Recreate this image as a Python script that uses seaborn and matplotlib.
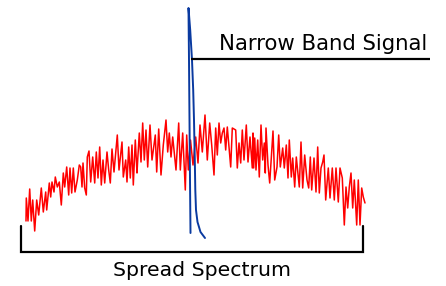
import matplotlib
matplotlib.use("Agg")
import matplotlib.pyplot as plt
import seaborn as sns
import pandas as pd

# Spread spectrum noise floor (frequency position, level)
spread_freq = [26, 26.3, 28, 29.7, 31.3, 32.7, 34.7, 36.7, 38.7, 41.3, 43.3, 45.7, 46.7, 49.3, 50.7, 52, 54, 55.3,
               57.3, 59.3, 61.3, 63.3, 64.7, 66.7, 68.7, 70, 71.7, 73.3, 75, 77.3, 79.3,
               80.7, 82, 83, 84.7, 86.3, 87.3, 89, 90.7, 92.7, 94.7, 96.3, 98, 99.7, 101.3, 103, 104.7, 107,
               108.7, 110.3, 112, 114, 117.3, 119, 122, 123.3, 125.7, 127, 128.7, 130.3, 132, 133.3, 135.3,
               137, 137.7, 139.3, 141, 142.7, 144.3, 146, 147.7, 150, 152, 155.3, 156.7, 158.7, 161, 163.3,
               166, 167.7, 169.3, 171, 172.7, 176, 178.7, 180.3, 182.7, 185.3, 186.7, 188.3, 190.5, 193,
               195.7, 198, 200, 202.3, 205, 207.3, 209.7, 211.7, 214, 215.7, 217.3, 219, 220.7, 222.3, 224,
               225.7, 227.3, 230.7, 232.3, 235.7, 237.3, 239, 240.7, 242.3, 244, 246.3, 248, 250,
               252.3, 253, 253.7, 254.7, 256, 257.7, 259.3, 261, 262.7, 264.3, 265.3, 266, 268, 269.7, 273,
               274.7, 277, 278.7, 280.3, 282.7, 284.3, 286.3, 288, 289.3, 291.3, 292.7, 294.7, 296.3,
               299.3, 301, 302.7, 304.7, 307, 308.7, 310.3, 311.7, 314, 316, 317.7, 319.3, 321, 322.7,
               324, 325.7, 328.3, 330, 332.3, 334.3, 336, 338.3, 340, 342.3, 344.3, 346, 347.7, 349.3,
               351, 352.7, 354.3, 356.7, 358.3, 360, 361.7, 363.3, 365]
spread_pix = [221, 198, 221, 189, 221, 200, 231, 200, 215, 188, 212, 192, 210, 183, 197, 182, 192, 177,
              187, 182, 205, 173, 187, 167, 195, 168, 193, 168, 192, 180, 165,
              167, 187, 163, 188, 195, 157, 151, 182, 157, 183, 152, 178, 147, 185, 160, 183, 152,
              170, 183, 149, 172, 135, 170, 142, 177, 160, 182, 147, 178, 145, 185, 140,
              173, 160, 133, 162, 123, 160, 130, 167, 125, 160, 135, 172, 129, 175, 145,
              120, 152, 133, 157, 137, 170, 123, 170, 133, 190, 135, 170, 140, 165,
              137, 163, 125, 152, 115, 160, 123, 145, 175, 128, 155, 123, 143, 133, 128,
              150, 127, 167, 128, 130, 168, 143, 163, 130, 160, 125, 162, 137,
              168, 133, 168, 138, 170, 140, 177, 125, 160, 143, 173, 128, 165, 183, 131,
              180, 167, 135, 167, 148, 168, 145, 178, 140, 177, 158, 187, 157,
              187, 142, 188, 155, 180, 188, 157, 190, 158, 192, 147, 193, 168, 162,
              155, 200, 168, 198, 168, 200, 168, 202, 168, 178, 225, 187, 208, 187,
              173, 208, 180, 225, 180, 225, 188, 197, 203]
spread_level = [286 - v for v in spread_pix]

# Narrow band signal trace (frequency position, level)
narrow_freq = [190.5, 190.0, 189.5, 189.0, 188.6, 188.5, 190.2, 192.0, 193.2, 194.0, 194.8, 195.3, 196.0, 197.5, 200.5, 205]
narrow_pix = [233, 180, 120, 60, 20, 8, 30, 60, 90, 120, 160, 190, 210, 222, 232, 238]
narrow_level = [286 - v for v in narrow_pix]

labels = ["Narrow Band Signal", "Spread Spectrum"]

sns.set_theme(style="white")
plt.rcParams['font.family'] = ['DejaVu Sans']

fig = plt.figure(figsize=(4.46, 2.86), dpi=100)
ax = fig.add_axes([0, 0, 1, 1])
ax.set_xlim(0, 446)
ax.set_ylim(0, 286)
ax.axis("off")

df_s = pd.DataFrame({"f": spread_freq, "a": spread_level})
df_n = pd.DataFrame({"f": narrow_freq, "a": narrow_level})

sns.lineplot(data=df_s, x="f", y="a", ax=ax, color="#ff0000", linewidth=1.1,
             sort=False, estimator=None)
sns.lineplot(data=df_n, x="f", y="a", ax=ax, color="#0a3aa0", linewidth=1.4,
             sort=False, estimator=None)

# Annotation for narrow band signal
ax.plot([191, 430], [286 - 58.5, 286 - 58.5], color="black", linewidth=1.6, solid_capstyle="butt")
ax.text(219, 286 - 49.5, labels[0], fontsize=15.3, color="black", ha="left", va="baseline")

# Bracket for spread spectrum
ax.plot([21, 21, 363, 363], [286 - 226, 286 - 252, 286 - 252, 286 - 226], color="black",
        linewidth=1.6, solid_joinstyle="miter")
ax.text(202, 286 - 276.5, labels[1], fontsize=14.7, color="black", ha="center", va="baseline")

fig.savefig("out.png", dpi=100)
